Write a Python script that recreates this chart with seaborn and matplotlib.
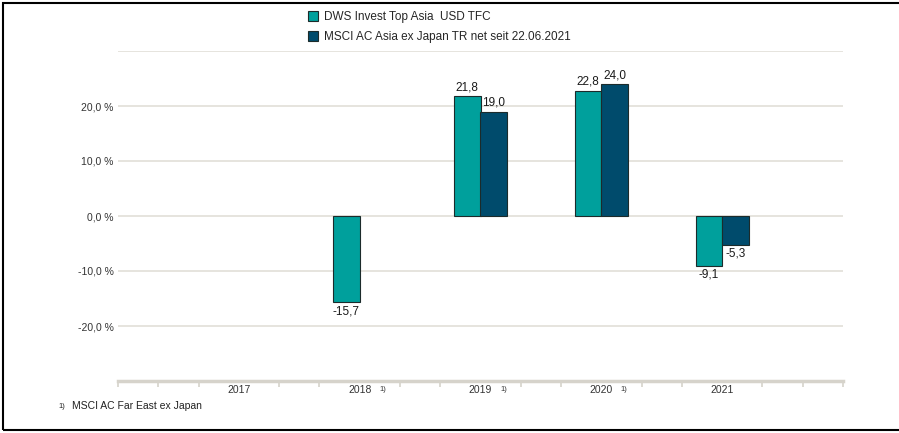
import numpy as np
import pandas as pd
import seaborn as sns
import matplotlib.pyplot as plt
from matplotlib.patches import Rectangle, Patch
from matplotlib.transforms import blended_transform_factory

# data
years = ['2017', '2018', '2019', '2020', '2021']
footnote_years = ['2018', '2019', '2020']
dws = [np.nan, -15.7, 21.8, 22.8, -9.1]
msci = [np.nan, np.nan, 19.0, 24.0, -5.3]
series = ['DWS Invest Top Asia  USD TFC', 'MSCI AC Asia ex Japan TR net seit 22.06.2021']
colors = ['#00A09C', '#004B6C']

df = pd.DataFrame({
    'year': years * 2,
    'value': dws + msci,
    'series': [series[0]] * len(years) + [series[1]] * len(years),
})

sns.set_style('white')
plt.rcParams['font.family'] = ['Liberation Sans', 'DejaVu Sans']

fig = plt.figure(figsize=(8.99, 4.33), dpi=100)
ax = fig.add_axes([118 / 899, 1 - 381 / 433, (843 - 118) / 899, (381 - 51) / 433])

sns.barplot(data=df, x='year', y='value', hue='series', order=years,
            hue_order=series, palette=colors, width=0.44, errorbar=None,
            edgecolor='#1c2b2b', linewidth=0.8, saturation=1,
            legend=False, ax=ax)

# value labels
for c in ax.containers:
    labels = [f'{v:.1f}'.replace('.', ',') if np.isfinite(v) else '' for v in c.datavalues]
    ax.bar_label(c, labels=labels, padding=2, fontsize=8.5, color='#1a1a1a')

ax.set_xlim(-1, 5)
ax.set_ylim(-30, 30)
ax.set_yticks([-20, -10, 0, 10, 20, 30])
ax.set_yticklabels(['-20,0 %', '-10,0 %', '0,0 %', '10,0 %', '20,0 %', ''])
ax.yaxis.grid(True, color='#e2dfd8', linewidth=1.2)
ax.set_axisbelow(True)
ax.tick_params(axis='y', length=0, pad=3, labelsize=7.5, labelcolor='#333333')
ax.set_xlabel('')
ax.set_ylabel('')

# x axis: labels at categories, small ticks at thirds
ax.set_xticks(range(len(years)))
ax.set_xticklabels(years)
minor = [k / 3 for k in range(-3, 16) if k % 3 != 0 or k in (-3, 15)]
ax.set_xticks(minor, minor=True)
ax.tick_params(axis='x', which='major', bottom=False, length=0, pad=3,
               labelsize=7.5, labelcolor='#333333')
ax.tick_params(axis='x', which='minor', bottom=True, direction='out', length=4,
               width=1.2, color='#d6d3cb')

for s in ['left', 'right', 'top']:
    ax.spines[s].set_visible(False)
ax.spines['bottom'].set_color('#d6d3cb')
ax.spines['bottom'].set_linewidth(2.5)

# footnote markers next to year labels
trans = blended_transform_factory(ax.transData, ax.transAxes)
for y in footnote_years:
    ax.text(years.index(y) + 0.19, -0.014, '1)', transform=trans, fontsize=5.5,
            color='#333333', ha='center', va='top')

# legend
handles = [Patch(facecolor=colors[i], edgecolor='#1c2b2b', linewidth=0.8) for i in range(2)]
fig.legend(handles, series, loc='upper left', bbox_to_anchor=(303 / 899, 1 - 6 / 433),
           frameon=False, fontsize=8.5, handlelength=0.9, handleheight=0.9,
           handletextpad=0.45, labelspacing=0.7, borderaxespad=0)

# footnote
fig.text(58 / 899, 1 - 406 / 433, '1)', fontsize=5.5, color='#222222', va='center')
fig.text(72 / 899, 1 - 406 / 433, 'MSCI AC Far East ex Japan', fontsize=7.5,
         color='#222222', va='center')

# frame around the figure
fig.add_artist(Rectangle((3 / 899, 3 / 433), 1.2, 1 - 6 / 433, transform=fig.transFigure,
                         fill=False, edgecolor='black', linewidth=1.5))

fig.savefig('out.png', dpi=100)
